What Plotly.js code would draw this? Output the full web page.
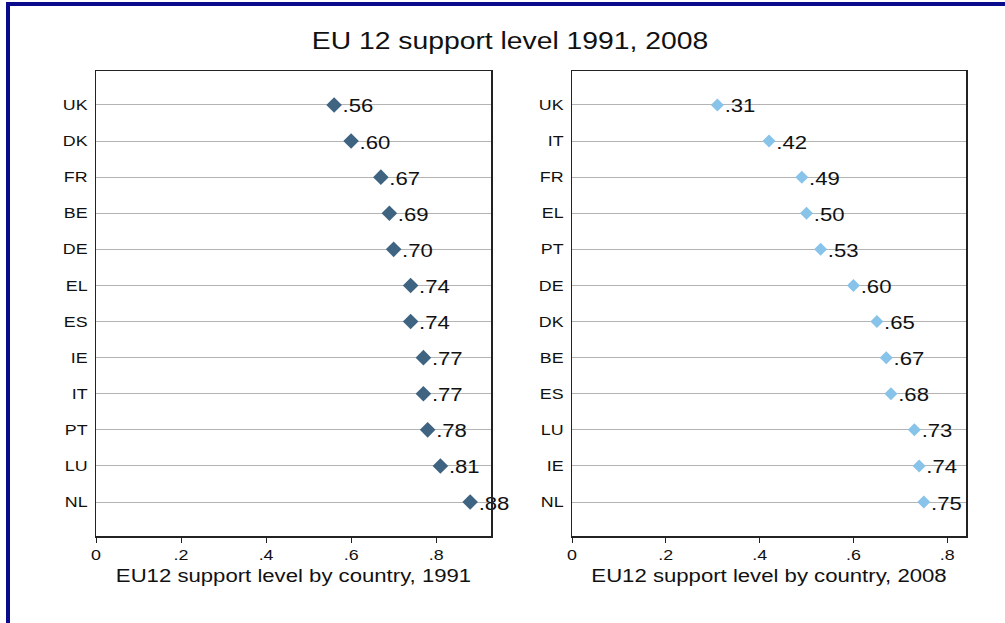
<!DOCTYPE html>
<html>
<head>
<meta charset="utf-8">
<script src="https://cdn.plot.ly/plotly-3.0.1.min.js"></script>
<style>
  html, body { margin: 0; padding: 0; background: #fff; }
  #wrap { position: relative; width: 1005px; height: 623px; overflow: hidden; }
  #chart { width: 1005px; height: 623px; }
  .frame-top { position: absolute; left: 6px; top: 2px; width: 999px; height: 4px; background: #0a0a8c; }
  .frame-left { position: absolute; left: 6px; top: 2px; width: 4px; height: 621px; background: #0a0a8c; }
</style>
</head>
<body>
<div id="wrap">
  <div id="chart"></div>
  <div class="frame-top"></div>
  <div class="frame-left"></div>
</div>
<script>
// EU12 public support by country, 1991 (sorted ascending)
const countries1991 = ["UK", "DK", "FR", "BE", "DE", "EL", "ES", "IE", "IT", "PT", "LU", "NL"];
const support1991   = [0.56, 0.60, 0.67, 0.69, 0.70, 0.74, 0.74, 0.77, 0.77, 0.78, 0.81, 0.88];

// EU12 public support by country, 2008 (sorted ascending)
const countries2008 = ["UK", "IT", "FR", "EL", "PT", "DE", "DK", "BE", "ES", "LU", "IE", "NL"];
const support2008   = [0.31, 0.42, 0.49, 0.50, 0.53, 0.60, 0.65, 0.67, 0.68, 0.73, 0.74, 0.75];

const xTickVals = [0, 0.2, 0.4, 0.6, 0.8];
const xTickText = ["0", ".2", ".4", ".6", ".8"];

const fmt = v => v.toFixed(2).replace(/^0/, "");
const FONT = "Liberation Sans, Arial, sans-serif";
// the graph uses a slightly widened type face
const TEXT_WIDEN = 1.23;

const traces = [
  {
    x: support1991, y: countries1991, xaxis: "x", yaxis: "y",
    type: "scatter", mode: "markers+text",
    marker: { symbol: "diamond", size: 12, color: "#3e6482" },
    text: support1991.map(fmt), textposition: "middle right",
    textfont: { family: FONT, size: 18, color: "#111" },
    cliponaxis: false, hoverinfo: "x+y"
  },
  {
    x: support2008, y: countries2008, xaxis: "x2", yaxis: "y2",
    type: "scatter", mode: "markers+text",
    marker: { symbol: "diamond", size: 10, color: "#88c3ea" },
    text: support2008.map(fmt), textposition: "middle right",
    textfont: { family: FONT, size: 18, color: "#111" },
    cliponaxis: false, hoverinfo: "x+y"
  }
];

function xAxis(domain, range, title) {
  return {
    domain: domain, range: range,
    tickvals: xTickVals, ticktext: xTickText,
    ticks: "outside", ticklen: 5, tickcolor: "#222", tickwidth: 1,
    showgrid: false, zeroline: false,
    showline: true, linecolor: "#222", linewidth: 1.5, mirror: true,
    tickfont: { family: FONT, size: 14.5, color: "#111" },
    title: { text: title, font: { family: FONT, size: 18, color: "#111" }, standoff: 7 }
  };
}

function yAxis(domain, cats, anchor) {
  return {
    domain: domain, anchor: anchor,
    type: "category", categoryorder: "array", categoryarray: cats,
    range: [cats.length - 1 + 0.94, -0.94],
    showgrid: true, gridcolor: "#b4b4b4", gridwidth: 1,
    ticks: "", ticklabelstandoff: 4,
    showline: true, linecolor: "#222", linewidth: 1.5, mirror: true,
    zeroline: false,
    tickfont: { family: FONT, size: 14.5, color: "#111" }
  };
}

const yDom = [1 - 536 / 623, 1 - 71 / 623];

const layout = {
  width: 1005, height: 623,
  margin: { l: 0, r: 0, t: 0, b: 0 },
  paper_bgcolor: "#fff", plot_bgcolor: "#fff",
  showlegend: false,
  title: {
    text: "EU 12 support level 1991, 2008",
    font: { family: FONT, size: 23, color: "#111" },
    x: 510 / 1005, xanchor: "center", xref: "paper",
    y: 1 - 41 / 623, yanchor: "middle", yref: "container"
  },
  xaxis: Object.assign(xAxis([96 / 1005, 491 / 1005], [0, 0.929], "EU12 support level by country, 1991"), { anchor: "y" }),
  yaxis: yAxis(yDom, countries1991, "x"),
  xaxis2: Object.assign(xAxis([572 / 1005, 966 / 1005], [0, 0.84], "EU12 support level by country, 2008"), { anchor: "y2" }),
  yaxis2: yAxis(yDom, countries2008, "x2")
};

Plotly.newPlot("chart", traces, layout, { displayModeBar: false, staticPlot: true }).then(gd => {
  // widen every label horizontally, keeping its anchor point
  gd.querySelectorAll("svg text").forEach(t => {
    const w = t.getComputedTextLength();
    if (w > 0) {
      t.setAttribute("textLength", (w * TEXT_WIDEN).toFixed(2));
      t.setAttribute("lengthAdjust", "spacingAndGlyphs");
    }
  });
  // value labels sit a touch below their gridline
  gd.querySelectorAll(".textpoint text").forEach(t => {
    const y = parseFloat(t.getAttribute("y"));
    t.setAttribute("y", (y + 3).toFixed(2));
  });
});
</script>
</body>
</html>
